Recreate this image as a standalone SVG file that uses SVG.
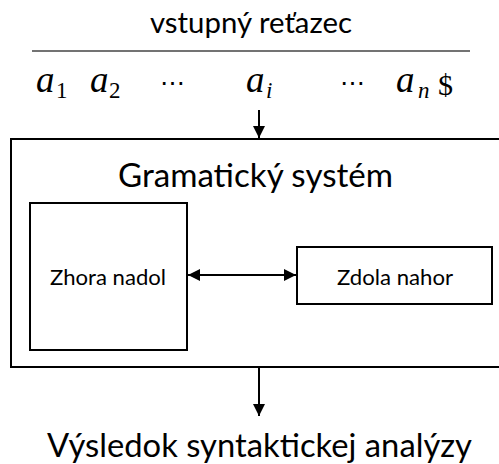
<svg xmlns="http://www.w3.org/2000/svg" width="499" height="464" viewBox="0 0 499 464">
<style>
.t{font-family:Lato,"Open Sans","Liberation Sans",sans-serif;fill:#000}
.m{font-family:"Liberation Serif","DejaVu Serif",serif;fill:#000}
.i{font-style:italic}
.box{fill:#fff;stroke:#000;stroke-width:2}
.conn{stroke:#000;stroke-width:2;fill:none}
</style>
<defs>
<marker id="ah" markerUnits="userSpaceOnUse" markerWidth="12" markerHeight="12" refX="12" refY="6" orient="auto-start-reverse">
<path d="M0,0 L12,6 L0,12 z" fill="#000"/>
</marker>
</defs>
<rect width="499" height="464" fill="#fff"/>
<g id="input">
<text class="t" x="150" y="33" font-size="28.5" textLength="202" lengthAdjust="spacingAndGlyphs">vstupný reťazec</text>
<line x1="32" y1="51" x2="470" y2="51" stroke="#444" stroke-width="1.5"/>
<text class="m i" x="36" y="92" font-size="37">a</text>
<text class="m" x="56" y="98" font-size="23">1</text>
<text class="m i" x="90" y="92" font-size="37">a</text>
<text class="m" x="109" y="98" font-size="23">2</text>
<text class="m" x="160" y="92" font-size="28" textLength="25" lengthAdjust="spacingAndGlyphs" font-family="DejaVu Sans">⋯</text>
<text class="m i" x="246" y="92" font-size="37">a</text>
<text class="m i" x="266" y="98" font-size="23">i</text>
<text class="m" x="340" y="92" font-size="28" textLength="25" lengthAdjust="spacingAndGlyphs" font-family="DejaVu Sans">⋯</text>
<text class="m i" x="396" y="92" font-size="37">a</text>
<text class="m i" x="418" y="98" font-size="23">n</text>
<text class="m" x="438" y="95" font-size="30">$</text>
</g>
<g id="system">
<rect class="box" x="11" y="139" width="500" height="228"/>
<text class="t" x="118" y="187" font-size="32.5" textLength="275" lengthAdjust="spacingAndGlyphs">Gramatický systém</text>
</g>
<g id="zhora">
<rect class="box" x="30" y="203" width="157" height="147"/>
<text class="t" x="50" y="285" font-size="21.6" textLength="116" lengthAdjust="spacingAndGlyphs">Zhora nadol</text>
</g>
<g id="zdola">
<rect class="box" x="297" y="247" width="195" height="57"/>
<text class="t" x="337" y="285" font-size="21.6" textLength="116" lengthAdjust="spacingAndGlyphs">Zdola nahor</text>
</g>
<g id="result">
<text class="t" x="47" y="457" font-size="32.5" textLength="425" lengthAdjust="spacingAndGlyphs">Výsledok syntaktickej analýzy</text>
</g>
<g id="connectors">
<line class="conn" x1="259" y1="110" x2="259" y2="138" marker-end="url(#ah)"/>
<line class="conn" x1="188" y1="275" x2="296" y2="275" marker-start="url(#ah)" marker-end="url(#ah)"/>
<line class="conn" x1="259" y1="368" x2="259" y2="416" marker-end="url(#ah)"/>
</g>
</svg>
